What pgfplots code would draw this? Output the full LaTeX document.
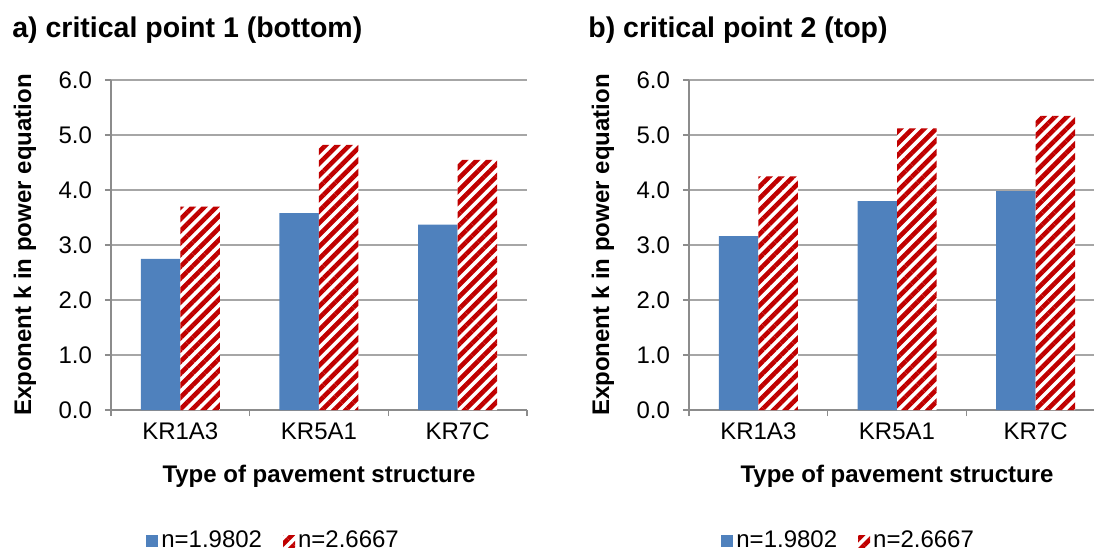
\documentclass[border=0pt]{standalone}
\usepackage{pgfplots}
\pgfplotsset{compat=1.18}
\usepackage{fontspec}
\setmainfont{Liberation Sans}
\usetikzlibrary{patterns.meta}
\definecolor{barblue}{HTML}{4F81BD}
\definecolor{barred}{HTML}{C00000}
\definecolor{gridgray}{HTML}{A6A6A6}
\definecolor{axgray}{HTML}{8C8C8C}

\pgfplotsset{
  mychart/.style={
    width=208pt, height=165pt, scale only axis,
    xmin=-0.5, xmax=2.5, ymin=0, ymax=6,
    ytick={0,1,2,3,4,5,6},
    xtick={0,1,2},
    xticklabels={KR1A3,KR5A1,KR7C},
    minor xtick={-0.5,0.5,1.5,2.5},
    axis lines*=left,
    axis line style={axgray, line width=0.8pt},
    ymajorgrids, grid style={gridgray, line width=0.8pt},
    tick align=outside,
    major tick length=3pt, minor tick length=3pt,
    major x tick style={draw=none},
    minor x tick style={axgray, line width=0.8pt},
    major y tick style={axgray, line width=0.8pt},
    /pgf/number format/assume math mode=true,
    yticklabel style={/pgf/number format/fixed, /pgf/number format/fixed zerofill, /pgf/number format/precision=1, xshift=-3pt},
    tick label style={font=\fontsize{12}{14}\selectfont},
    label style={font=\fontsize{12}{14}\selectfont\bfseries},
    xlabel={Type of pavement structure},
    ylabel={Exponent k in power equation},
    ylabel style={at={(axis description cs:-0.207,0.5)}, anchor=center},
    xlabel style={at={(axis description cs:0.5,-0.2)}, anchor=center},
    ybar=0pt, bar width=19.75pt,
    legend columns=2,
    legend style={draw=none, fill=none, font=\fontsize{12}{14}\selectfont,
      nodes={inner xsep=1.5pt},
      /tikz/every even column/.append style={column sep=9pt}},
    legend cell align=left,
    legend image code/.code={\fill[##1] (0pt,-3pt) rectangle (6pt,3pt);},
  },
  bluebar/.style={fill=barblue, draw=none},
  redbar/.style={fill=white, draw=none,
    postaction={pattern={Lines[angle=45,distance=4.2pt,line width=2.3pt]}, pattern color=barred}},
}

\begin{document}
\begin{tikzpicture}
\begin{axis}[mychart, at={(55.5pt,72pt)}, anchor=south west,
  legend style={at={(0.392,-0.397)}, anchor=center}]
\addplot[bluebar] coordinates {(0,2.75) (1,3.58) (2,3.37)};
\addplot[redbar] coordinates {(0,3.70) (1,4.82) (2,4.55)};
\legend{n=1.9802, n=2.6667}
\end{axis}
\begin{axis}[mychart, at={(344.5pt,72pt)}, anchor=south west,
  legend style={at={(0.385,-0.397)}, anchor=center}]
\addplot[bluebar] coordinates {(0,3.16) (1,3.80) (2,3.98)};
\addplot[redbar] coordinates {(0,4.25) (1,5.12) (2,5.35)};
\legend{n=1.9802, n=2.6667}
\end{axis}
\node[anchor=west, font=\fontsize{14.25}{16}\selectfont\bfseries, inner sep=0pt] at (6pt,262pt) {a) critical point 1 (bottom)};
\node[anchor=west, font=\fontsize{14.25}{16}\selectfont\bfseries, inner sep=0pt] at (294pt,262pt) {b) critical point 2 (top)};
\pgfresetboundingbox
\useasboundingbox (0,0) rectangle (547pt,277pt);
\end{tikzpicture}
\end{document}
